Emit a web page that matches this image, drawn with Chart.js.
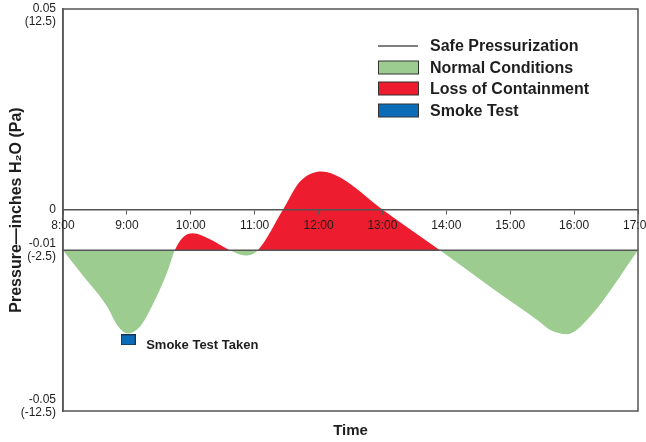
<!DOCTYPE html>
<html><head><meta charset="utf-8">
<script src="https://cdn.jsdelivr.net/npm/chart.js@4/dist/chart.umd.min.js"></script>
<style>html,body{margin:0;padding:0;background:#fff}#wrap{width:646px;height:442px}</style>
</head><body><div id="wrap"><canvas id="c" width="646" height="442"></canvas></div>
<script>
// ---- data ----
const hours    = [8.00, 8.27, 8.69, 8.86, 9.02, 9.21, 9.39, 9.63, 9.75, 9.88, 10.03, 10.30, 10.61, 10.86, 11.05, 11.44, 11.71, 12.05, 12.34, 13.01, 13.90, 14.68, 15.47, 15.62, 15.89, 16.25, 17.00];
const pressure = [-0.0100, -0.0155, -0.0240, -0.0289, -0.0307, -0.0289, -0.0240, -0.0155, -0.0100, -0.0068, -0.0058, -0.0073, -0.0100, -0.0113, -0.0100, 0.0000, 0.0071, 0.0096, 0.0081, 0.0000, -0.0100, -0.0190, -0.0279, -0.0298, -0.0309, -0.0265, -0.0100];
const safeLevel = -0.01;
const safeHours = [8, 17];
const smokeHour = [9.02];
const smokeValue = [-0.0323];
const timeTicks = [8, 9, 10, 11, 12, 13, 14, 15, 16, 17];
const timeLabels = ['8:00', '9:00', '10:00', '11:00', '12:00', '13:00', '14:00', '15:00', '16:00', '17:00'];
const yTickValues = [-0.05, -0.01, 0, 0.05];
const yTickLabels = [['-0.05', '(-12.5)'], ['-0.01', '(-2.5)'], ['0'], ['0.05', '(12.5)']];
const legendNames = ['Safe Pressurization', 'Normal Conditions', 'Loss of Containment', 'Smoke Test'];
const smokeNote = 'Smoke Test Taken';
const xTitle = 'Time';
const yTitle = 'Pressure\u2014inches H\u2082O (Pa)';

const GREEN = '#9ccc8f', RED = '#ed1c2e', BLUE = '#0b6cb8', FRAME = '#555555', TEXT = '#1e1e1e';
const FONT = '"Liberation Sans", Arial, Helvetica, sans-serif';

// smoke marker (rectangle)
const mk = document.createElement('canvas');
mk.width = 15; mk.height = 11;
{ const g = mk.getContext('2d'); g.fillStyle = BLUE; g.fillRect(0.5,0.5,14,10); g.strokeStyle = '#1d2f4a'; g.lineWidth = 1; g.strokeRect(0.5,0.5,14,10); }

const framePlugin = {
  id: 'frame',
  afterDatasetsDraw(chart) {
    const {ctx, chartArea: a} = chart;
    ctx.save();
    ctx.strokeStyle = FRAME; ctx.lineWidth = 1.5;
    ctx.strokeRect(a.left, a.top, a.right - a.left, a.bottom - a.top);
    ctx.restore();
  }
};

// y tick labels: placed from the y scale, kept inside the frame's height
const yLabelPlugin = {
  id: 'ylabels',
  afterDraw(chart) {
    const ctx = chart.ctx, ys = chart.scales.y, a = chart.chartArea;
    const lh = 13;
    ctx.save();
    ctx.fillStyle = TEXT; ctx.font = '12px ' + FONT; ctx.textAlign = 'right'; ctx.textBaseline = 'middle';
    yTickValues.forEach((v, i) => {
      const lines = yTickLabels[i];
      const h = lines.length * lh;
      let c = ys.getPixelForValue(v);
      c = Math.max(a.top + 6, Math.min(a.bottom - 5, c));
      lines.forEach((t, j) => ctx.fillText(t, a.left - 7, c - h / 2 + lh / 2 + j * lh));
    });
    ctx.restore();
  }
};

const notesPlugin = {
  id: 'notes',
  afterDraw(chart) {
    const ctx = chart.ctx;
    const xs = chart.scales.x, ys = chart.scales.y;
    ctx.save();
    const px = xs.getPixelForValue(smokeHour[0]), py = ys.getPixelForValue(smokeValue[0]);
    ctx.fillStyle = TEXT; ctx.font = 'bold 13px ' + FONT; ctx.textBaseline = 'middle'; ctx.textAlign = 'left';
    ctx.fillText(smokeNote, px + 18, py + 6);
    // legend
    const lx = 378, tx = 430, rows = [46, 67.5, 88.5, 110.5];
    ctx.strokeStyle = FRAME; ctx.lineWidth = 1.3;
    ctx.beginPath(); ctx.moveTo(lx, rows[0]); ctx.lineTo(lx + 40, rows[0]); ctx.stroke();
    const fills = [GREEN, RED, BLUE];
    for (let i = 0; i < 3; i++) {
      ctx.fillStyle = fills[i];
      ctx.fillRect(lx, rows[i+1] - 6.5, 40, 13);
      ctx.strokeStyle = '#333'; ctx.lineWidth = 1;
      ctx.strokeRect(lx + 0.5, rows[i+1] - 6.5, 40, 13);
    }
    ctx.fillStyle = TEXT; ctx.font = 'bold 16px ' + FONT;
    legendNames.forEach((n, i) => ctx.fillText(n, tx, rows[i] + 1));
    ctx.restore();
  }
};

new Chart(document.getElementById('c'), {
  type: 'line',
  data: {
    datasets: [
      {
        label: 'Pressure',
        data: hours.map((h, i) => ({x: h, y: pressure[i]})),
        borderColor: 'rgba(0,0,0,0)', borderWidth: 0, pointRadius: 0,
        cubicInterpolationMode: 'monotone',
        backgroundColor: GREEN,
        fill: {target: {value: safeLevel}, above: RED, below: GREEN},
        order: 3
      },
      {
        label: legendNames[0],
        data: safeHours.map(h => ({x: h, y: safeLevel})),
        borderColor: FRAME, borderWidth: 1.5, pointRadius: 0, fill: false,
        order: 2
      },
      {
        label: legendNames[3],
        data: smokeHour.map((h, i) => ({x: h, y: smokeValue[i]})),
        showLine: false, pointStyle: mk, pointRadius: 7, fill: false,
        order: 1
      }
    ]
  },
  options: {
    responsive: false, animation: false, devicePixelRatio: 1,
    layout: {padding: {top: 9, right: 8, left: 0, bottom: 0}},
    plugins: {legend: {display: false}, tooltip: {enabled: false}},
    scales: {
      x: {
        type: 'linear', min: 8, max: 17, position: {y: 0},
        afterBuildTicks: s => { s.ticks = timeTicks.map(v => ({value: v})); },
        afterFit: s => { s.paddingLeft = 0; s.paddingRight = 0; },
        ticks: {
          callback: v => timeLabels[timeTicks.indexOf(v)],
          font: {size: 12, family: FONT}, color: TEXT, padding: 4, maxRotation: 0, autoSkip: false, z: 2
        },
        grid: {display: true, drawOnChartArea: false, drawTicks: true, tickLength: 4, color: FRAME, lineWidth: 1, z: 2},
        border: {display: true, color: FRAME, width: 1.5, z: 2}
      },
      x2: {
        type: 'linear', min: 8, max: 17, position: 'bottom',
        ticks: {display: false}, grid: {display: false}, border: {display: false},
        title: {display: true, text: xTitle, font: {size: 15, weight: 'bold', family: FONT}, color: TEXT, padding: {top: 0, bottom: 2}},
        afterFit: s => { s.height = 31; s.paddingLeft = 0; s.paddingRight = 0; }
      },
      y: {
        type: 'linear', min: -0.05, max: 0.05, position: 'left',
        afterBuildTicks: s => { s.ticks = yTickValues.map(v => ({value: v})); },
        afterFit: s => { s.width = 63; s.paddingTop = 0; s.paddingBottom = 0; },
        ticks: {display: false},
        grid: {display: false},
        border: {display: true, color: FRAME, width: 1.5},
        title: {display: true, text: yTitle, font: {size: 16, weight: 'bold', family: FONT}, color: TEXT, padding: {top: 7, bottom: 0}}
      }
    }
  },
  plugins: [framePlugin, yLabelPlugin, notesPlugin]
});
</script>
</body></html>
